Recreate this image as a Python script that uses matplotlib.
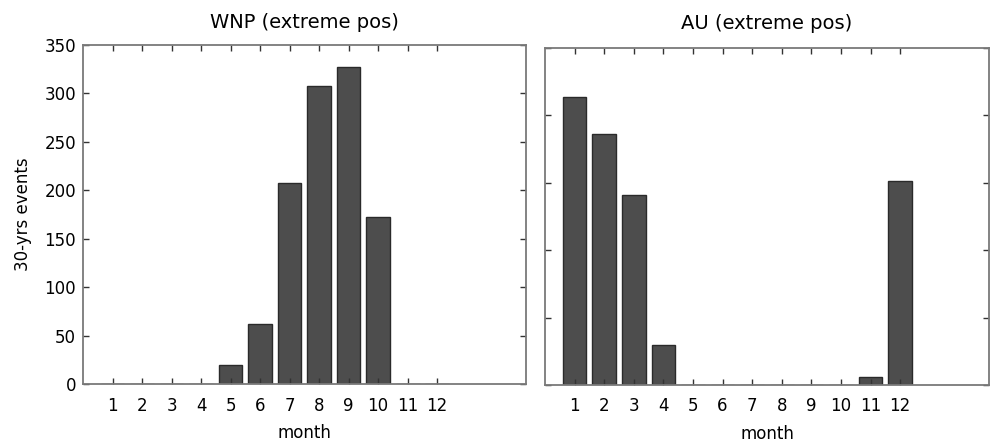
import numpy as np
import matplotlib.pyplot as plt

plt.rcParams['font.family'] = ['DejaVu Sans']

months = np.arange(1, 13)
month_labels = [str(m) for m in months]

# 30-year event counts per month
wnp_events = [0, 0, 0, 0, 20, 62, 208, 308, 327, 172, 0, 0]
au_events = [214, 186, 141, 30, 0, 0, 0, 0, 0, 0, 6, 151]

bar_color = '#4d4d4d'
edge_color = '#2a2a2a'
spine_color = '#7a7a7a'


def style_axes(ax):
    for s in ax.spines.values():
        s.set_color(spine_color)
        s.set_linewidth(1.3)
    ax.tick_params(direction='in', length=4, width=1, color='#333333',
                   top=True, right=True, labelsize=12, pad=9)
    ax.tick_params(axis='y', pad=5)
    ax.set_xlim(0, 15)
    ax.set_xticks(months)
    ax.set_xticklabels(month_labels)
    ax.set_xlabel('month', fontsize=12, labelpad=7)


fig = plt.figure(figsize=(9.92, 4.42), dpi=100)

ax1 = fig.add_axes([0.0837, 0.1312, 0.4463, 0.7670])
ax1.bar(months, wnp_events, width=0.8, color=bar_color, edgecolor=edge_color, linewidth=1)
style_axes(ax1)
ax1.set_ylim(0, 350)
ax1.set_yticks(np.arange(0, 351, 50))
ax1.set_ylabel('30-yrs events', fontsize=12, labelpad=9)
ax1.set_title('WNP (extreme pos)', fontsize=14, pad=12)

ax2 = fig.add_axes([0.5494, 0.1290, 0.4476, 0.7624])
ax2.bar(months, au_events, width=0.8, color=bar_color, edgecolor=edge_color, linewidth=1)
style_axes(ax2)
ax2.set_ylim(0, 250)
ax2.set_yticks(np.arange(0, 251, 50))
ax2.set_yticklabels([])
ax2.set_title('AU (extreme pos)', fontsize=14, pad=14)

fig.savefig('out.png', dpi=100)
